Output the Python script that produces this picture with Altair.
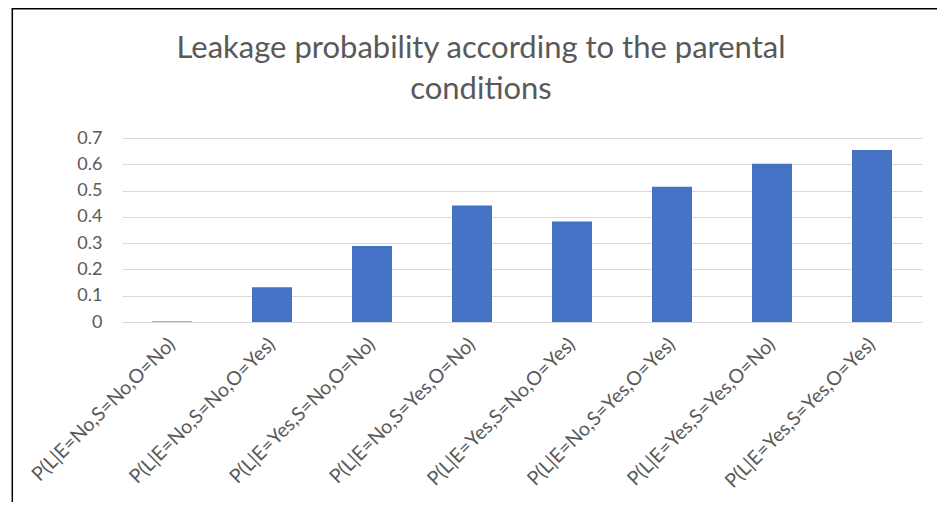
import altair as alt
import pandas as pd

categories = [
    "P(L|E=No,S=No,O=No)",
    "P(L|E=No,S=No,O=Yes)",
    "P(L|E=Yes,S=No,O=No)",
    "P(L|E=No,S=Yes,O=No)",
    "P(L|E=Yes,S=No,O=Yes)",
    "P(L|E=No,S=Yes,O=Yes)",
    "P(L|E=Yes,S=Yes,O=No)",
    "P(L|E=Yes,S=Yes,O=Yes)",
]
values = [0.002, 0.132, 0.289, 0.443, 0.382, 0.515, 0.602, 0.654]
y_ticks = [0, 0.1, 0.2, 0.3, 0.4, 0.5, 0.6, 0.7]
title_lines = ["Leakage probability according to the parental", "conditions"]

df = pd.DataFrame({"condition": categories, "probability": values})

FONT = "Lato"
TEXT = "#595959"
GRID = "#D9D9D9"

bars = alt.Chart(df).mark_bar(color="#4472C4").encode(
    x=alt.X(
        "condition:N",
        sort=categories,
        scale=alt.Scale(paddingInner=0.6, paddingOuter=0.3),
        axis=alt.Axis(
            title=None,
            labelAngle=-45,
            labelAlign="right",
            labelBaseline="middle",
            labelFont=FONT,
            labelFontSize=19.5,
            labelColor=TEXT,
            labelPadding=19,
            labelLimit=0,
            ticks=False,
            domainColor=GRID,
            domainWidth=1,
        ),
    ),
    y=alt.Y(
        "probability:Q",
        scale=alt.Scale(domain=[0, 0.7], nice=False),
        axis=alt.Axis(
            title=None,
            values=y_ticks,
            format="~g",
            labelFont=FONT,
            labelFontSize=18,
            labelColor=TEXT,
            labelPadding=20,
            ticks=False,
            domain=False,
            grid=True,
            gridColor=GRID,
            gridWidth=1,
        ),
    ),
)

border = alt.Chart(alt.InlineData(values=[{}])).mark_rect(
    fill=None, stroke="black", strokeWidth=1.5, clip=False
).encode(
    x=alt.value(-109.7),
    x2=alt.value(900),
    y=alt.value(-129.3),
    y2=alt.value(500),
)

chart = alt.layer(bars, border).properties(
    width=800,
    height=184,
    padding={"left": 114, "top": 130, "right": 15, "bottom": 180},
    autosize="none",
    background="white",
    title=alt.TitleParams(
        title_lines,
        font=FONT,
        fontSize=31,
        fontWeight="normal",
        color=TEXT,
        anchor="middle",
        frame="group",
        dx=-41,
        dy=129.3,
        offset=31,
        lineHeight=41,
    ),
).configure_view(stroke=None)

chart.save("out.html", embed_options={"renderer": "svg", "actions": False})
